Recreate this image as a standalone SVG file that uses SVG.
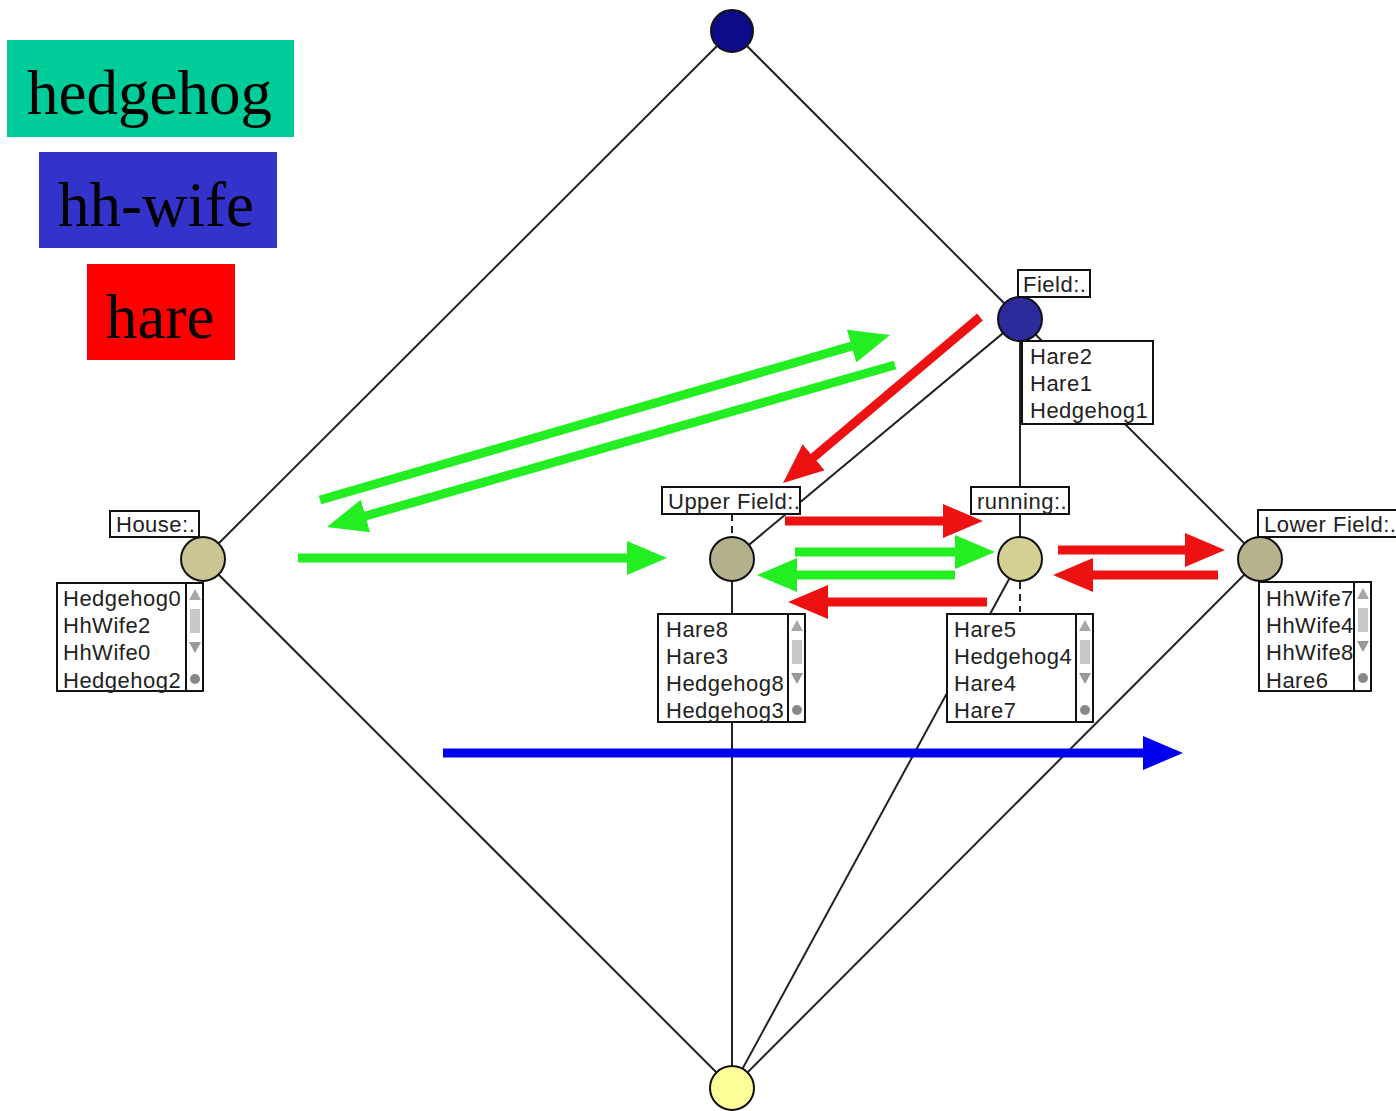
<svg xmlns="http://www.w3.org/2000/svg" width="1396" height="1111" viewBox="0 0 1396 1111">
<style>
.edge{stroke:#222;stroke-width:2;fill:none}
.dash{stroke:#222;stroke-width:2;stroke-dasharray:7,5;fill:none}
.node{stroke:#111;stroke-width:2}
.box{fill:#fff;stroke:#111;stroke-width:2}
.t{font-family:"Liberation Sans",Arial,sans-serif;font-size:22px;letter-spacing:0.5px;fill:#222}
.leg{font-family:"Liberation Serif","Times New Roman",serif;font-size:63px;fill:#000}
.sb{stroke:#111;stroke-width:2}
.g{stroke:#22ee22;stroke-width:9;fill:none}
.r{stroke:#ee1111;stroke-width:9;fill:none}
.b{stroke:#0000ee;stroke-width:9;fill:none}
</style>
<defs>
<marker id="ag" viewBox="0 0 40 34" markerWidth="40" markerHeight="34" refX="8" refY="17" orient="auto" markerUnits="userSpaceOnUse"><path d="M0,0 L40,17 L0,34 z" fill="#22ee22"/></marker>
<marker id="ar" viewBox="0 0 40 34" markerWidth="40" markerHeight="34" refX="8" refY="17" orient="auto" markerUnits="userSpaceOnUse"><path d="M0,0 L40,17 L0,34 z" fill="#ee1111"/></marker>
<marker id="ab" viewBox="0 0 40 34" markerWidth="40" markerHeight="34" refX="8" refY="17" orient="auto" markerUnits="userSpaceOnUse"><path d="M0,0 L40,17 L0,34 z" fill="#0000ee"/></marker>
<g id="sbar">
<path d="M0,-8 L6,3 L-6,3 z" fill="#a8a8a8"/>
<rect x="-5" y="12" width="10" height="24" fill="#c8c8c8"/>
<path d="M-6,45 L6,45 L0,56 z" fill="#999"/>
<circle cx="0" cy="82" r="5" fill="#888"/>
</g>
</defs>
<rect width="1396" height="1111" fill="#fff"/>

<g id="legend">
<rect x="7" y="40" width="287" height="97" fill="#00cc99"/>
<text class="leg" x="27" y="114">hedgehog</text>
<rect x="39" y="152" width="238" height="96" fill="#3333cc"/>
<text class="leg" x="58" y="226">hh-wife</text>
<rect x="87" y="264" width="148" height="96" fill="#ff0000"/>
<text class="leg" x="106" y="338">hare</text>
</g>

<g id="connectors">
<line class="edge" x1="732" y1="31" x2="203" y2="559"/>
<line class="edge" x1="732" y1="31" x2="1020" y2="319"/>
<line class="edge" x1="1020" y1="319" x2="732" y2="559"/>
<line class="edge" x1="1020" y1="319" x2="1020" y2="559"/>
<line class="edge" x1="1020" y1="319" x2="1260" y2="559"/>
<line class="edge" x1="203" y1="559" x2="732" y2="1088"/>
<line class="edge" x1="732" y1="559" x2="732" y2="1088"/>
<line class="edge" x1="1020" y1="559" x2="732" y2="1088"/>
<line class="edge" x1="1260" y1="559" x2="732" y2="1088"/>
<line class="dash" x1="732" y1="514" x2="732" y2="537"/>
<line class="dash" x1="1020" y1="582" x2="1020" y2="612"/>
</g>

<g id="node-top"><circle class="node" cx="732" cy="31" r="21" fill="#0c0c88"/></g>

<g id="node-field">
<circle class="node" cx="1020" cy="319" r="22" fill="#2b2b9c"/>
<rect class="box" x="1018" y="270" width="72" height="27"/>
<text class="t" x="1023" y="292">Field:.</text>
<rect class="box" x="1022" y="341" width="131" height="83"/>
<text class="t" x="1030" y="364">Hare2</text>
<text class="t" x="1030" y="391">Hare1</text>
<text class="t" x="1030" y="418">Hedgehog1</text>
</g>

<g id="node-house">
<circle class="node" cx="203" cy="559" r="22" fill="#cac592"/>
<rect class="box" x="110" y="511" width="89" height="26"/>
<text class="t" x="116" y="532">House:.</text>
<rect class="box" x="57" y="583" width="146" height="108"/>
<line class="sb" x1="186" y1="583" x2="186" y2="691"/>
<use href="#sbar" x="195" y="597"/>
<text class="t" x="63" y="606">Hedgehog0</text>
<text class="t" x="63" y="633">HhWife2</text>
<text class="t" x="63" y="660">HhWife0</text>
<text class="t" x="63" y="688">Hedgehog2</text>
</g>

<g id="node-upper">
<circle class="node" cx="732" cy="559" r="22" fill="#b3b08c"/>
<rect class="box" x="662" y="487" width="138" height="27"/>
<text class="t" x="668" y="509">Upper Field:.</text>
<rect class="box" x="658" y="614" width="147" height="108"/>
<line class="sb" x1="788" y1="614" x2="788" y2="722"/>
<use href="#sbar" x="797" y="628"/>
<text class="t" x="666" y="637">Hare8</text>
<text class="t" x="666" y="664">Hare3</text>
<text class="t" x="666" y="691">Hedgehog8</text>
<text class="t" x="666" y="718">Hedgehog3</text>
</g>

<g id="node-running">
<circle class="node" cx="1020" cy="559" r="22" fill="#d4cf92"/>
<rect class="box" x="971" y="487" width="98" height="27"/>
<text class="t" x="977" y="509">running:.</text>
<rect class="box" x="947" y="614" width="146" height="108"/>
<line class="sb" x1="1076" y1="614" x2="1076" y2="722"/>
<use href="#sbar" x="1085" y="628"/>
<text class="t" x="954" y="637">Hare5</text>
<text class="t" x="954" y="664">Hedgehog4</text>
<text class="t" x="954" y="691">Hare4</text>
<text class="t" x="954" y="718">Hare7</text>
</g>

<g id="node-lower">
<circle class="node" cx="1260" cy="559" r="22" fill="#b5b28c"/>
<rect class="box" x="1258" y="510" width="140" height="27"/>
<text class="t" x="1264" y="532">Lower Field:.</text>
<rect class="box" x="1259" y="582" width="112" height="109"/>
<line class="sb" x1="1354" y1="582" x2="1354" y2="691"/>
<use href="#sbar" x="1363" y="596"/>
<text class="t" x="1266" y="606">HhWife7</text>
<text class="t" x="1266" y="633">HhWife4</text>
<text class="t" x="1266" y="660">HhWife8</text>
<text class="t" x="1266" y="688">Hare6</text>
</g>

<g id="node-bottom"><circle class="node" cx="732" cy="1088" r="22" fill="#ffff99"/></g>

<g id="arrows">
<line class="g" x1="320" y1="500" x2="859.3" y2="343.9" marker-end="url(#ag)"/>
<line class="g" x1="895" y1="365" x2="357.8" y2="518.2" marker-end="url(#ag)"/>
<line class="g" x1="298" y1="558" x2="635" y2="558" marker-end="url(#ag)"/>
<line class="g" x1="795" y1="552" x2="963" y2="552" marker-end="url(#ag)"/>
<line class="g" x1="955" y1="575" x2="789" y2="575" marker-end="url(#ag)"/>
<line class="r" x1="980" y1="317" x2="807.5" y2="462.4" marker-end="url(#ar)"/>
<line class="r" x1="785" y1="521" x2="951" y2="521" marker-end="url(#ar)"/>
<line class="r" x1="987" y1="602" x2="820" y2="602" marker-end="url(#ar)"/>
<line class="r" x1="1058" y1="550" x2="1193" y2="550" marker-end="url(#ar)"/>
<line class="r" x1="1218" y1="575" x2="1085" y2="575" marker-end="url(#ar)"/>
<line class="b" x1="443" y1="753" x2="1151" y2="753" marker-end="url(#ab)"/>
</g>
</svg>
